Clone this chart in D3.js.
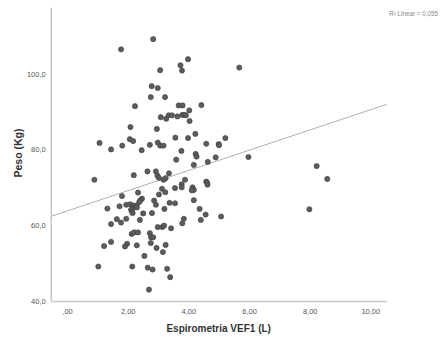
<!DOCTYPE html>
<html><head><meta charset="utf-8">
<script src="https://cdn.jsdelivr.net/npm/d3@7"></script>
<style>body{margin:0;background:#fff}svg{display:block}</style>
</head><body>
<script>
const vef1 = [3.09,3.27,3.35,3.46,3.64,3.80,3.87,3.92,4.03,4.04,3.68,3.81,4.43,5.68,2.84,1.78,3.99,3.74,3.79,3.07,
2.79,2.99,2.76,3.23,2.24,2.09,2.96,4.23,3.57,3.99,5.22,2.07,2.18,1.07,1.45,1.82,2.46,2.73,2.99,3.07,
3.18,4.59,5.00,5.01,3.77,4.24,4.27,4.90,3.60,5.98,8.23,8.58,7.99,
4.64,4.18,0.90,2.20,2.65,2.93,2.98,3.03,3.36,3.18,3.25,3.89,3.78,3.78,3.56,4.14,4.18,4.11,4.59,4.62,4.63,
3.13,3.24,3.03,2.34,1.81,2.47,2.41,2.38,1.33,1.73,1.95,2.08,2.18,2.23,2.29,2.30,2.11,2.15,2.16,
2.87,2.93,3.21,3.38,3.56,4.18,4.37,4.57,4.41,5.08,2.80,2.51,1.64,1.78,1.95,1.45,2.40,3.80,3.85,
2.99,3.14,3.20,3.43,2.13,2.21,2.34,2.73,2.77,2.84,2.76,2.95,3.16,3.25,2.30,1.98,1.91,1.45,1.22,
2.55,1.03,2.15,2.66,2.82,3.30,3.40,2.70];
const peso = [88.5,88.1,89.0,89.0,88.7,89.1,89.1,89.0,90.3,87.5,91.6,91.6,91.7,101.6,109.1,106.4,103.8,102.2,100.8,100.9,
96.7,96.2,93.8,93.8,91.4,85.9,85.4,84.1,83.1,83.0,83.0,82.7,82.2,81.7,80.0,81.0,79.8,81.2,81.8,81.0,
81.0,81.5,81.4,81.1,79.6,78.8,78.1,77.9,77.3,78.0,75.6,72.2,64.2,
76.7,75.9,72.0,73.2,74.2,74.2,73.1,72.5,73.7,72.0,72.4,72.0,70.8,70.0,69.8,70.0,69.3,69.2,71.5,71.2,70.7,
69.6,68.7,68.1,68.6,67.7,67.0,66.5,66.1,64.4,65.0,65.4,65.5,65.2,64.8,65.2,64.7,64.1,63.5,63.2,
66.5,65.4,64.3,65.9,65.8,66.6,64.3,62.8,61.4,62.3,63.2,63.1,61.6,60.7,61.7,60.3,61.4,60.5,61.7,
59.5,59.5,59.9,59.2,57.7,58.1,58.1,57.9,56.8,56.8,55.3,54.0,52.9,54.8,54.7,55.1,54.4,55.6,54.5,
51.9,49.1,49.1,48.8,48.3,48.5,46.3,43.0];
const xTicks = [0,2,4,6,8,10];
const xTickLabels = [",00","2,00","4,00","6,00","8,00","10,00"];
const yTicks = [40,60,80,100];
const yTickLabels = ["40,0","60,0","80,0","100,0"];
const fitLine = [63.75, 2.67]; // intercept, slope
const fitLabel = "R² Linear = 0,055";
const xTitle = "Espirometria VEF1 (L)";
const yTitle = "Peso (Kg)";

const W = 445, H = 340;
const svg = d3.select("body").append("svg").attr("width", W).attr("height", H);
const x = d3.scaleLinear().domain([-0.54, 10.54]).range([50.7, 386.7]);
const y = d3.scaleLinear().domain([40, 117.5]).range([301, 7.3]);
const font = "Arial, 'Liberation Sans', sans-serif";

// regression line
const x0 = x.domain()[0], x1 = x.domain()[1];
svg.append("line")
  .attr("x1", x(x0)).attr("y1", y(fitLine[0] + fitLine[1]*x0))
  .attr("x2", x(x1)).attr("y2", y(fitLine[0] + fitLine[1]*x1))
  .attr("stroke", "#b0b0b0").attr("stroke-width", 1);

// points
svg.append("g").selectAll("circle").data(vef1.map((v,i)=>[v,peso[i]])).join("circle")
  .attr("cx", d=>x(d[0])).attr("cy", d=>y(d[1])).attr("r", 2.6)
  .attr("fill", "#5c5c5c").attr("stroke", "#3c3c3c").attr("stroke-width", 0.6);

// axes
const xAxis = svg.append("g").attr("transform", `translate(0,${y(40)})`)
  .call(d3.axisBottom(x).tickValues(xTicks).tickFormat((d,i)=>xTickLabels[i]).tickSize(0).tickPadding(8));
const yAxis = svg.append("g").attr("transform", `translate(${x(x0)},0)`)
  .call(d3.axisLeft(y).tickValues(yTicks).tickFormat((d,i)=>yTickLabels[i]).tickSize(0).tickPadding(5));
[xAxis, yAxis].forEach(a=>{
  a.select(".domain").attr("stroke", "#c8c8c8").attr("stroke-width", 1.5);
  a.selectAll("text").attr("font-family", font).attr("font-size", 7.5).attr("fill", "#555");
});

svg.append("text").attr("x", (50.7+386.7)/2).attr("y", 331.5).attr("text-anchor", "middle")
  .attr("font-family", font).attr("font-weight", "bold").attr("font-size", 10).attr("fill", "#333")
  .text(xTitle);
svg.append("text").attr("transform", "translate(21.5,153) rotate(-90)").attr("text-anchor", "middle")
  .attr("font-family", font).attr("font-weight", "bold").attr("font-size", 10.5).attr("fill", "#333")
  .text(yTitle);
svg.append("text").attr("x", 438).attr("y", 15.5).attr("text-anchor", "end")
  .attr("font-family", font).attr("font-size", 6.3).attr("fill", "#888")
  .text(fitLabel);
</script>
</body></html>
